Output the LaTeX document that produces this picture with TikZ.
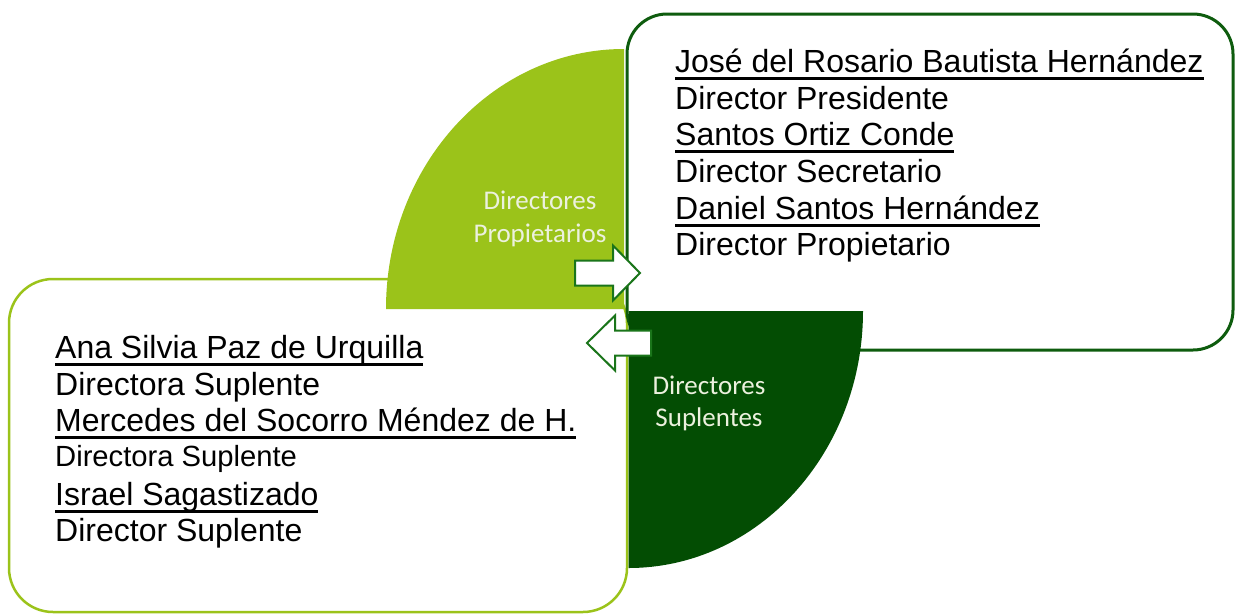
\documentclass[tikz,border=0pt]{standalone}
\usepackage{fontspec}
\setmainfont{Liberation Sans}
\newfontfamily\calibri{Carlito}
\definecolor{propgreen}{RGB}{155,195,26}
\definecolor{suplgreen}{RGB}{3,77,3}
\definecolor{boxgreen}{RGB}{14,92,14}
\definecolor{arrowgreen}{RGB}{26,117,26}
\definecolor{labelwhite}{RGB}{236,241,222}
\def\uname#1{\setbox0=\hbox{#1}\rlap{\rule[-7.5pt]{\wd0}{2.5pt}}\box0}
\def\blockarrow[#1](#2:#3:#4:#5){\draw[#1] (#2,#5-12.5) -- (#3,#5-12.5) -- (#3,#5-27.5) -- (#4,#5) -- (#3,#5+27.5) -- (#3,#5+12.5) -- (#2,#5+12.5) -- cycle;}

\begin{document}
\begin{tikzpicture}[x=1pt, y=-1pt,
		member/.style={anchor=base west, inner sep=0pt, font=\fontsize{32}{37}\selectfont},
		small member/.style={member, font=\fontsize{29.2}{34}\selectfont},
		quadtext/.style={anchor=base, inner sep=0pt, text=labelwhite, font=\calibri\fontsize{27}{33}\selectfont}]
			%%%%% START %%%%%
			
			\useasboundingbox (0,0) rectangle (1235,614);
			
			\draw[line width=2.5pt, color=propgreen, fill=white, rounded corners=44pt] (9,279) rectangle (627,612);
			\draw[line width=3pt, color=boxgreen, fill=white, rounded corners=40pt] (627,14) rectangle (1233,350);
			
			\fill[color=propgreen] (624,309) -- (386,309) arc[start angle=180, end angle=270, x radius=238, y radius=260] -- cycle;
			\fill[color=suplgreen] (628.5,311) -- (863,311) arc[start angle=0, end angle=90, x radius=234.5, y radius=257] -- cycle;
			
			\blockarrow[line width=2pt, color=arrowgreen, fill=white](575:613:640:273)
			\blockarrow[line width=2pt, color=arrowgreen, fill=white](651:615:587:343)
			
			\node[quadtext] (proptop) at (540,209) {Directores};
			\node[quadtext] (propbot) at (540,242) {Propietarios};
			\node[quadtext] (supltop) at (709,394) {Directores};
			\node[quadtext] (suplbot) at (709,426) {Suplentes};
			
			\node[member] (jose) at (675,72) {\uname{José del Rosario Bautista Hernández}};
			\node[member] (presidente) at (675,109) {Director Presidente};
			\node[member] (santos) at (675,145) {\uname{Santos Ortiz Conde}};
			\node[member] (secretario) at (675,182) {Director Secretario};
			\node[member] (daniel) at (675,219) {\uname{Daniel Santos Hernández}};
			\node[member] (propietario) at (675,255) {Director Propietario};
			
			\node[member] (ana) at (55,358) {\uname{Ana Silvia Paz de Urquilla}};
			\node[member] (suplente1) at (55,395) {Directora Suplente};
			\node[member] (mercedes) at (55,431) {\uname{Mercedes del Socorro Méndez de H.}};
			\node[small member] (suplente2) at (55,466) {Directora Suplente};
			\node[member] (israel) at (55,505) {\uname{Israel Sagastizado}};
			\node[member] (suplente3) at (55,541) {Director Suplente};
			
			%%%%% END %%%%%
\end{tikzpicture}
\end{document}
